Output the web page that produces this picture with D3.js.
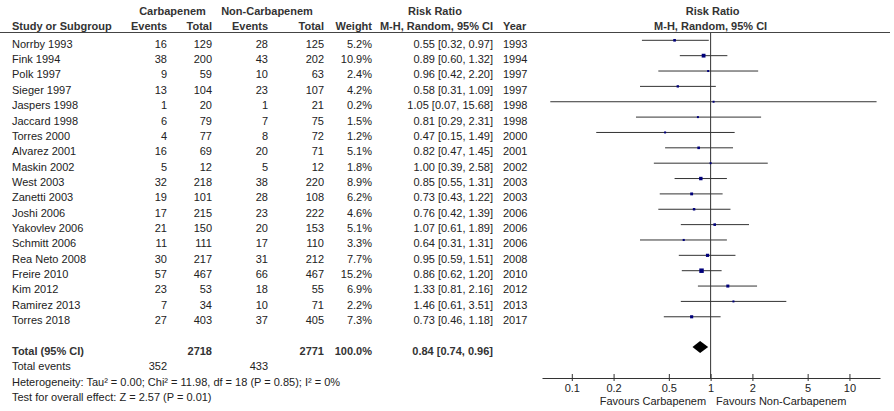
<!DOCTYPE html>
<html>
<head>
<meta charset="utf-8">
<script src="https://cdn.jsdelivr.net/npm/d3@7"></script>
<style>
  html, body { margin: 0; padding: 0; background: #fff; }
  svg { display: block; }
  text { font-family: "Liberation Sans", Arial, sans-serif; font-size: 11px; fill: #222; }
  .hdr { font-weight: bold; fill: #333; }
</style>
</head>
<body>
<svg id="chart" width="894" height="411"></svg>
<script>
// ---------------- DATA ----------------
const studies = ["Norrby 1993","Fink 1994","Polk 1997","Sieger 1997","Jaspers 1998","Jaccard 1998","Torres 2000","Alvarez 2001","Maskin 2002","West 2003","Zanetti 2003","Joshi 2006","Yakovlev 2006","Schmitt 2006","Rea Neto 2008","Freire 2010","Kim 2012","Ramirez 2013","Torres 2018"];
const carbEvents = [16,38,9,13,1,6,4,16,5,32,19,17,21,11,30,57,23,7,27];
const carbTotal  = [129,200,59,104,20,79,77,69,12,218,101,215,150,111,217,467,53,34,403];
const nonEvents  = [28,43,10,23,1,7,8,20,5,38,28,23,20,17,31,66,18,10,37];
const nonTotal   = [125,202,63,107,21,75,72,71,12,220,108,222,153,110,212,467,55,71,405];
const weights    = [5.2,10.9,2.4,4.2,0.2,1.5,1.2,5.1,1.8,8.9,6.2,4.6,5.1,3.3,7.7,15.2,6.9,2.2,7.3];
const rr         = [0.55,0.89,0.96,0.58,1.05,0.81,0.47,0.82,1.00,0.85,0.73,0.76,1.07,0.64,0.95,0.86,1.33,1.46,0.73];
const ciLow      = [0.32,0.60,0.42,0.31,0.07,0.29,0.15,0.47,0.39,0.55,0.43,0.42,0.61,0.31,0.59,0.62,0.81,0.61,0.46];
const ciHigh     = [0.97,1.32,2.20,1.09,15.68,2.31,1.49,1.45,2.58,1.31,1.22,1.39,1.89,1.31,1.51,1.20,2.16,3.51,1.18];
const years      = [1993,1994,1997,1997,1998,1998,2000,2001,2002,2003,2003,2006,2006,2006,2008,2010,2012,2013,2017];

const totalCarb = 2718, totalNon = 2771, totalWeight = 100.0;
const totalRR = 0.84, totalLow = 0.74, totalHigh = 0.96;
const totalEventsCarb = 352, totalEventsNon = 433;
const heterogeneityText = "Heterogeneity: Tau\u00B2 = 0.00; Chi\u00B2 = 11.98, df = 18 (P = 0.85); I\u00B2 = 0%";
const overallText = "Test for overall effect: Z = 2.57 (P = 0.01)";
const tickValues = [0.1, 0.2, 0.5, 1, 2, 5, 10];
const tickLabels = ["0.1", "0.2", "0.5", "1", "2", "5", "10"];
const axisExtent = [0.061, 16.6];
const favoursLeft = "Favours Carbapenem", favoursRight = "Favours Non-Carbapenem";

// ---------------- LAYOUT ----------------
const svg = d3.select("#chart");
svg.append("rect").attr("width", 894).attr("height", 411).attr("fill", "#fff");

const rowY = d3.scaleLinear().domain([0, 1]).range([40.3, 55.66]); // row index -> line y
const textOff = 7.4;
const x = d3.scaleLog().domain(axisExtent).range([542, 880]);

const col = { study: 12, ce: 167, ct: 212, ne: 268, nt: 324, w: 372, rr: 493, yr: 503 };

// header
const h1 = 14.5, h2 = 29.5;
function t(xp, yp, str, anchor, cls) {
  return svg.append("text").attr("x", xp).attr("y", yp).attr("text-anchor", anchor || "start")
    .attr("class", cls || null).text(str);
}
t((col.ce + col.ct) / 2 - 17, h1, "Carbapenem", "middle", "hdr");
t((col.ne + col.nt) / 2 - 29, h1, "Non-Carbapenem", "middle", "hdr");
t(435, h1, "Risk Ratio", "middle", "hdr");
t(x(1) + 2, h1, "Risk Ratio", "middle", "hdr");
t(col.study, h2, "Study or Subgroup", "start", "hdr");
t(col.ce, h2, "Events", "end", "hdr");
t(col.ct, h2, "Total", "end", "hdr");
t(col.ne, h2, "Events", "end", "hdr");
t(col.nt, h2, "Total", "end", "hdr");
t(col.w, h2, "Weight", "end", "hdr");
t(436.5, h2, "M-H, Random, 95% CI", "middle", "hdr");
t(col.yr, h2, "Year", "start", "hdr");
t(x(1), h2, "M-H, Random, 95% CI", "middle", "hdr");

svg.append("line").attr("x1", 0).attr("x2", 890).attr("y1", 32.5).attr("y2", 32.5)
  .attr("stroke", "#444").attr("stroke-width", 1);

// rows
const f2 = d3.format(".2f");
const rows = svg.append("g");
studies.forEach((s, i) => {
  const yb = rowY(i) + textOff;
  t(col.study, yb, s);
  t(col.ce, yb, carbEvents[i], "end");
  t(col.ct, yb, carbTotal[i], "end");
  t(col.ne, yb, nonEvents[i], "end");
  t(col.nt, yb, nonTotal[i], "end");
  t(col.w, yb, weights[i].toFixed(1) + "%", "end");
  t(col.rr, yb, `${f2(rr[i])} [${f2(ciLow[i])}, ${f2(ciHigh[i])}]`, "end");
  t(col.yr, yb, years[i], "start");
});

// total rows
const totIdx = studies.length + 1;
const yt = rowY(totIdx) + textOff;
t(col.study, yt, "Total (95% CI)", "start", "hdr");
t(col.ct, yt, totalCarb, "end", "hdr");
t(col.nt, yt, totalNon, "end", "hdr");
t(col.w, yt, totalWeight.toFixed(1) + "%", "end", "hdr");
t(col.rr, yt, `${f2(totalRR)} [${f2(totalLow)}, ${f2(totalHigh)}]`, "end", "hdr");
const ye = rowY(totIdx + 1) + textOff;
t(col.study, ye, "Total events");
t(col.ce, ye, totalEventsCarb, "end");
t(col.ne, ye, totalEventsNon, "end");
t(col.study, rowY(totIdx + 2) + textOff, heterogeneityText);
t(col.study, rowY(totIdx + 3) + textOff, overallText);

// forest plot
const axisY = 378;
const plot = svg.append("g");
plot.append("line").attr("x1", x(1)).attr("x2", x(1)).attr("y1", 33).attr("y2", axisY)
  .attr("stroke", "#333").attr("stroke-width", 1);

plot.selectAll("line.ci").data(studies).enter().append("line").attr("class", "ci")
  .attr("x1", (d, i) => x(ciLow[i])).attr("x2", (d, i) => x(ciHigh[i]))
  .attr("y1", (d, i) => rowY(i)).attr("y2", (d, i) => rowY(i))
  .attr("stroke", "#333").attr("stroke-width", 1);

const side = w => Math.max(2, Math.sqrt(w) * 1.15);
plot.selectAll("rect.sq").data(studies).enter().append("rect").attr("class", "sq")
  .attr("x", (d, i) => x(rr[i]) - side(weights[i]) / 2)
  .attr("y", (d, i) => rowY(i) - side(weights[i]) / 2)
  .attr("width", (d, i) => side(weights[i]))
  .attr("height", (d, i) => side(weights[i]))
  .attr("fill", "#00007a");

const yd = rowY(totIdx) - 0.5;
plot.append("path")
  .attr("d", `M${x(totalLow)},${yd} L${x(totalRR)},${yd - 6} L${x(totalHigh)},${yd} L${x(totalRR)},${yd + 6} Z`)
  .attr("fill", "#000");

// axis
const axis = d3.axisBottom(x).tickValues(tickValues).tickFormat((d, i) => tickLabels[i])
  .tickSizeOuter(0).tickSizeInner(4).tickPadding(4);
const ag = svg.append("g").attr("transform", `translate(0,${axisY})`).call(axis);
ag.select(".domain").attr("stroke", "#333");
ag.selectAll(".tick line").attr("y1", -4).attr("y2", 3).attr("stroke", "#333");
ag.selectAll(".tick text").attr("y", 14).attr("dy", 0)
  .style("font-family", '"Liberation Sans", Arial, sans-serif').style("font-size", "11px").attr("fill", "#222");

t(x(1) - 4.5, 405, favoursLeft, "end");
t(x(1) + 5.5, 405, favoursRight, "start");
</script>
</body>
</html>
